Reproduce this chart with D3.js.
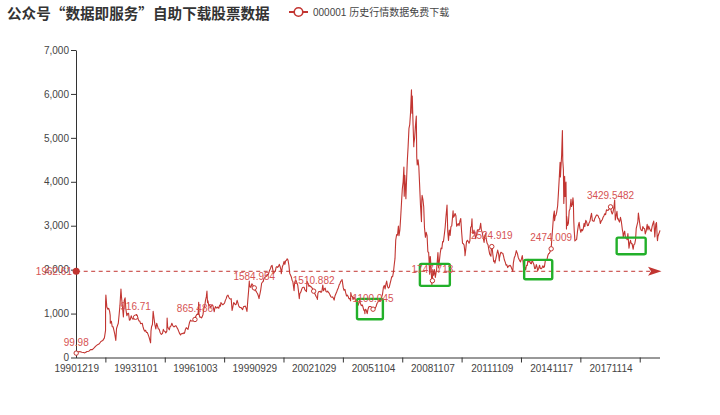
<!DOCTYPE html>
<html><head><meta charset="utf-8">
<script src="https://cdn.jsdelivr.net/npm/d3@7"></script>
<style>body{margin:0;background:#fff}svg{display:block}</style>
</head><body><svg id="c" width="720" height="415"></svg>
<script>
const chartTitle = "公众号“数据即服务”自助下载股票数据";
const seriesName = "000001 历史行情数据免费下载";
const xTickLabels = ["19901219","19931101","19961003","19990929","20021029","20051104","20081107","20111109","20141117","20171114"];
const lastDate = "20200508";
const yTickValues = [0,1000,2000,3000,4000,5000,6000,7000];
const averageValue = 1962.61;
const highlights = [["20050110","20060505",870,1335],["20080320","20090925",1631,2131],["20130703","20141207",1783,2222],["20180306","20190820",2352,2730]];
const closes = [
["19901219",99.98],["19901231",127.61],
["19910131",129.97],["19910228",133.05],["19910329",120.19],["19910430",113.94],["19910517",104.96],["19910531",114.83],["19910628",137.56],["19910731",143.8],["19910830",180.92],["19910930",180.19],["19911031",218.6],["19911129",259.6],["19911231",292.75],
["19920131",313.24],["19920228",364.74],["19920331",384.46],["19920430",446.18],["19920520",617],["19920521",1266.49],["19920526",1421.57],["19920612",1150],["19920630",1099],["19920715",1120],["19920731",1050],["19920810",960],["19920812",781],["19920831",823],["19920915",700],["19920930",700],["19921015",620],["19921030",530],["19921117",386.85],["19921130",660],["19921215",720],["19921231",780.39],
["19930115",980],["19930129",1180],["19930216",1558.95],["19930226",1370],["19930315",1150],["19930331",925],["19930415",1300],["19930430",1358],["19930514",1100],["19930531",950],["19930615",1000],["19930630",1007],["19930715",850],["19930730",860],["19930816",950],["19930831",900],["19930915",870],["19930930",890],["19931015",880],["19931101",916.71],["19931115",980],["19931130",960],["19931215",880],["19931231",833.8],
["19940114",830],["19940131",770],["19940228",780],["19940315",700],["19940331",630],["19940415",600],["19940429",620],["19940516",570],["19940531",570],["19940615",520],["19940630",470],["19940715",400],["19940729",333.92],["19940805",600],["19940815",700],["19940831",750],["19940913",1052.94],["19940930",880],["19941014",750],["19941031",650],["19941115",780],["19941130",720],["19941215",650],["19941230",647.87],
["19950116",570],["19950207",524.43],["19950228",550],["19950315",640],["19950331",600],["19950414",590],["19950428",560],["19950517",600],["19950522",897],["19950531",700],["19950615",660],["19950630",630],["19950714",700],["19950731",720],["19950815",780],["19950831",730],["19950915",700],["19950929",700],["19951016",720],["19951031",720],["19951115",680],["19951130",650],["19951215",600],["19951229",555.29],
["19960119",512.83],["19960131",537],["19960215",550],["19960229",540],["19960315",560],["19960329",550],["19960415",640],["19960430",680],["19960515",660],["19960531",640],["19960614",720],["19960628",800],["19960715",850],["19960731",830],["19960815",830],["19960830",830],["19960913",850],["19960930",850],["19961003",865.486],["19961015",930],["19961031",970],["19961115",990],["19961129",980],["19961211",1258.69],["19961216",1000],["19961231",917.02],
["19970115",920],["19970131",900],["19970214",930],["19970228",980],["19970314",1100],["19970331",1170],["19970415",1300],["19970430",1380],["19970512",1510.17],["19970522",1250],["19970530",1290],["19970613",1180],["19970630",1200],["19970715",1130],["19970731",1170],["19970815",1200],["19970829",1180],["19970923",1041],["19970930",1100],["19971015",1160],["19971031",1130],["19971114",1130],["19971128",1150],["19971215",1120],["19971231",1194.1],
["19980115",1170],["19980123",1250],["19980227",1200],["19980331",1240],["19980415",1300],["19980430",1340],["19980515",1400],["19980529",1410],["19980603",1420],["19980615",1380],["19980630",1340],["19980715",1330],["19980731",1340],["19980817",1070],["19980831",1150],["19980915",1250],["19980930",1230],["19981015",1200],["19981030",1210],["19981117",1300],["19981130",1250],["19981215",1180],["19981231",1146.7],
["19990115",1140],["19990129",1135],["19990226",1090],["19990315",1160],["19990331",1160],["19990415",1170],["19990430",1130],["19990517",1047.83],["19990531",1280],["19990615",1500],["19990629",1739],["19990630",1689.42],["19990715",1600],["19990730",1600],["19990816",1680],["19990831",1650],["19990915",1620],["19990929",1584.954],["19991015",1520],["19991029",1520],["19991115",1480],["19991130",1450],["19991215",1400],["19991228",1341],["19991230",1366.58],
["20000114",1450],["20000128",1535],["20000215",1690],["20000229",1714],["20000315",1730],["20000331",1800],["20000414",1820],["20000428",1836],["20000515",1850],["20000531",1894],["20000615",1870],["20000630",1928],["20000714",1980],["20000731",2023],["20000815",2080],["20000831",2097],["20000915",1990],["20000929",1910],["20001016",1950],["20001031",1961],["20001115",2050],["20001130",2070],["20001215",2050],["20001229",2073.48],
["20010115",2120],["20010131",2065],["20010215",2000],["20010222",1907],["20010228",1960],["20010315",2070],["20010330",2112],["20010416",2190],["20010430",2119],["20010515",2200],["20010531",2214],["20010613",2245.43],["20010629",2218],["20010716",2100],["20010731",1920],["20010815",1880],["20010831",1834],["20010914",1760],["20010928",1731],["20011022",1520],["20011031",1690],["20011115",1750],["20011130",1750],["20011214",1700],["20011231",1645.97],
["20020115",1500],["20020129",1339],["20020208",1450],["20020228",1490],["20020315",1550],["20020329",1590],["20020415",1600],["20020430",1600],["20020515",1540],["20020531",1520],["20020614",1500],["20020624",1732],["20020628",1730],["20020715",1680],["20020731",1620],["20020815",1640],["20020830",1610],["20020913",1610],["20020930",1580],["20021015",1550],["20021029",1510.882],["20021115",1460],["20021129",1430],["20021213",1390],["20021231",1357.65],
["20030106",1320],["20030115",1460],["20030130",1500],["20030214",1500],["20030228",1510],["20030314",1480],["20030331",1510],["20030416",1649],["20030430",1520],["20030515",1560],["20030530",1580],["20030616",1500],["20030630",1490],["20030715",1510],["20030731",1480],["20030815",1460],["20030829",1420],["20030915",1380],["20030930",1370],["20031015",1380],["20031031",1350],["20031113",1307],["20031128",1400],["20031215",1450],["20031231",1497.04],
["20040115",1550],["20040130",1590],["20040216",1660],["20040227",1680],["20040315",1740],["20040331",1740],["20040407",1777],["20040416",1710],["20040430",1590],["20040514",1530],["20040531",1550],["20040615",1470],["20040630",1400],["20040715",1420],["20040730",1390],["20040813",1340],["20040831",1340],["20040913",1290],["20040917",1480],["20040930",1400],["20041015",1390],["20041029",1320],["20041115",1380],["20041130",1340],["20041215",1300],["20041231",1266.5],
["20050114",1230],["20050131",1190],["20050215",1250],["20050228",1300],["20050315",1230],["20050331",1180],["20050415",1200],["20050429",1160],["20050516",1080],["20050531",1060],["20050606",998.23],["20050609",1100],["20050630",1080],["20050715",1010],["20050719",1000],["20050729",1080],["20050815",1150],["20050831",1160],["20050915",1160],["20050930",1155],["20051018",1130],["20051031",1092],["20051104",1100.045],["20051115",1100],["20051130",1100],["20051215",1130],["20051230",1161.06],
["20060116",1230],["20060131",1258],["20060215",1290],["20060228",1299],["20060315",1280],["20060331",1298],["20060414",1380],["20060428",1440],["20060515",1600],["20060531",1641],["20060615",1560],["20060630",1672],["20060714",1740],["20060731",1612],["20060815",1580],["20060831",1601],["20060915",1680],["20060929",1752],["20061016",1840],["20061031",1837],["20061115",1930],["20061130",2099],["20061215",2250],["20061229",2675.47],
["20070115",2800],["20070131",2786],["20070216",2990],["20070227",2771],["20070315",2900],["20070330",3183],["20070416",3550],["20070430",3841],["20070515",4000],["20070529",4334],["20070604",3670],["20070615",4150],["20070629",3820],["20070705",3615],["20070716",4000],["20070731",4471],["20070815",4800],["20070831",5218],["20070914",5300],["20070928",5552],["20071016",6092.06],["20071025",5560],["20071031",5954],["20071115",5300],["20071128",4800],["20071130",4871],["20071214",5000],["20071228",5261.56],
["20080114",5497.9],["20080122",4559],["20080131",4383],["20080215",4500],["20080229",4348],["20080314",3962],["20080331",3473],["20080418",3094],["20080424",3583],["20080430",3693],["20080515",3600],["20080530",3433],["20080613",2957],["20080630",2736],["20080715",2850],["20080731",2775],["20080815",2400],["20080829",2397],["20080918",1895],["20080925",2300],["20080930",2293],["20081015",2000],["20081028",1664.93],["20081031",1728.79],["20081107",1747.713],["20081114",2000],["20081128",1871],["20081215",2000],["20081231",1820.81],
["20090115",1950],["20090123",1990],["20090217",2389],["20090302",2040],["20090316",2200],["20090331",2373],["20090415",2490],["20090430",2477],["20090515",2640],["20090529",2632],["20090615",2800],["20090630",2959],["20090715",3200],["20090731",3412],["20090804",3471],["20090817",2870],["20090831",2667],["20090915",2900],["20090930",2779],["20091015",2980],["20091030",2995],["20091124",3338],["20091130",3195],["20091215",3220],["20091231",3277.14],
["20100115",3230],["20100129",2989],["20100212",3018],["20100226",3051],["20100315",3000],["20100331",3109],["20100415",3165],["20100430",2870],["20100517",2600],["20100531",2592],["20100615",2560],["20100630",2398],["20100702",2319],["20100715",2450],["20100730",2637],["20100816",2670],["20100831",2638],["20100915",2600],["20100930",2655],["20101015",2971],["20101029",2979],["20101108",3159],["20101117",2838],["20101130",2820],["20101215",2900],["20101231",2808.08],
["20110114",2706],["20110131",2790],["20110215",2900],["20110228",2905],["20110315",2900],["20110331",2928],["20110418",3057],["20110429",2911],["20110516",2850],["20110531",2743],["20110620",2621],["20110630",2762],["20110718",2820],["20110729",2701],["20110815",2600],["20110831",2567],["20110915",2460],["20110930",2359],["20111024",2307],["20111031",2468],["20111109",2524.919],["20111115",2500],["20111130",2333],["20111215",2180],["20111230",2199.42],
["20120106",2148],["20120131",2292],["20120227",2447],["20120229",2428],["20120315",2360],["20120328",2200],["20120330",2262],["20120416",2357],["20120427",2396],["20120515",2380],["20120531",2373],["20120615",2306],["20120629",2225],["20120716",2170],["20120731",2103],["20120815",2110],["20120831",2047],["20120914",2080],["20120928",2086],["20121015",2100],["20121031",2068],["20121115",2020],["20121130",1980],["20121203",1959],["20121214",2150],["20121231",2269.13],
["20130115",2312],["20130131",2385],["20130206",2434],["20130228",2365],["20130315",2278],["20130329",2236],["20130415",2200],["20130426",2177],["20130515",2250],["20130529",2320],["20130614",2162],["20130625",1959],["20130628",1979],["20130715",2060],["20130731",1993],["20130815",2100],["20130830",2098],["20130912",2237],["20130930",2175],["20131015",2190],["20131031",2141],["20131115",2135],["20131129",2220],["20131216",2160],["20131231",2115.98],
["20140115",2020],["20140130",2033],["20140214",2115],["20140228",2056],["20140311",1974],["20140331",2033],["20140415",2100],["20140430",2026],["20140515",2020],["20140530",2039],["20140616",2087],["20140630",2048],["20140715",2067],["20140731",2201],["20140815",2226],["20140829",2217],["20140915",2315],["20140930",2363],["20141015",2373],["20141031",2420],["20141117",2474.009],["20141128",2683],["20141209",2856],["20141215",2953],["20141231",3234.68],
["20150115",3336],["20150119",3116],["20150130",3210],["20150216",3247],["20150227",3310],["20150316",3449],["20150331",3748],["20150415",4084],["20150430",4441],["20150507",4112],["20150515",4308],["20150529",4611],["20150612",5166.35],["20150619",4478],["20150630",4277],["20150708",3507],["20150723",4124],["20150731",3664],["20150817",3994],["20150826",2927],["20150831",3206],["20150915",3005],["20150930",3053],["20151015",3338],["20151030",3382],["20151117",3604],["20151127",3436],["20151215",3510],["20151223",3636],["20151231",3539.18],
["20160104",3296],["20160107",3125],["20160115",2900],["20160128",2655.66],["20160229",2688],["20160315",2864],["20160331",3003],["20160415",3078],["20160429",2938],["20160516",2850],["20160531",2917],["20160615",2887],["20160630",2930],["20160715",3054],["20160729",2979],["20160815",3125],["20160831",3085],["20160915",3002],["20160930",3005],["20161014",3063],["20161031",3100],["20161115",3206],["20161129",3282],["20161215",3117],["20161230",3103.64],
["20170116",3103],["20170126",3159],["20170215",3212],["20170228",3242],["20170315",3241],["20170331",3223],["20170414",3176],["20170428",3155],["20170510",3052],["20170531",3117],["20170615",3132],["20170630",3192],["20170714",3222],["20170731",3273],["20170815",3251],["20170831",3361],["20170915",3353],["20170929",3349],["20171016",3378],["20171031",3393],["20171113",3447],["20171114",3429.5482],["20171124",3353],["20171130",3317],["20171215",3266],["20171229",3307.17],
["20180115",3410],["20180129",3587],["20180209",3129],["20180228",3259],["20180312",3326],["20180323",3153],["20180330",3169],["20180416",3110],["20180427",3082],["20180515",3192],["20180531",3095],["20180619",2907],["20180629",2847],["20180705",2733],["20180716",2815],["20180731",2876],["20180815",2723],["20180831",2725],["20180914",2681],["20180928",2821],["20181018",2486],["20181031",2603],["20181115",2668],["20181130",2588],["20181214",2593],["20181228",2493.9],
["20190103",2464.36],["20190115",2570],["20190131",2584],["20190215",2682],["20190228",2941],["20190315",3021],["20190329",3090],["20190408",3288],["20190430",3078],["20190515",2938],["20190531",2899],["20190617",2887],["20190628",2979],["20190715",2942],["20190731",2932],["20190812",2815],["20190830",2886],["20190916",3030],["20190930",2905],["20191015",2992],["20191031",2929],["20191115",2891],["20191129",2872],["20191216",2984],["20191231",3050.12],
["20200114",3106],["20200123",2976],["20200203",2746],["20200221",3039],["20200305",3071],["20200319",2702],["20200323",2660],["20200331",2750],["20200415",2811],["20200430",2860],["20200508",2895]
];

const RED = "#c23531", LABEL_RED = "#d65353", AXIS = "#333", TEXT = "#444";
const FONT = "'Liberation Sans','Noto Sans CJK SC',sans-serif";
const parse = d3.timeParse("%Y%m%d");
const fmtDate = d3.timeFormat("%Y%m%d");
const data = closes.map(([d, v]) => ({ date: parse(d), value: v, key: d }));
const tickDates = xTickLabels.map(parse);

const left = 76.2, right = 660, step = 59.37;
const x = d3.scaleTime()
  .domain(tickDates.concat([parse(lastDate)]))
  .range(tickDates.map((d, i) => left + i * step).concat([right]));
const y = d3.scaleLinear().domain([0, 7000]).range([357.5, 50]);

const svg = d3.select("#c").style("font-family", FONT);

// title
svg.append("text").attr("x", 7).attr("y", 18.8)
  .style("font-family", "'Noto Sans CJK SC',sans-serif")
  .style("font-size", "14.6px").style("font-weight", "bold").attr("fill", "#333")
  .text(chartTitle);

// legend
const lg = svg.append("g");
lg.append("line").attr("x1", 289).attr("x2", 308).attr("y1", 12).attr("y2", 12)
  .attr("stroke", RED).attr("stroke-width", 2);
lg.append("circle").attr("cx", 298.5).attr("cy", 12).attr("r", 4.3)
  .attr("fill", "#fff").attr("stroke", RED).attr("stroke-width", 1.6);
lg.append("text").attr("x", 313).attr("y", 12).attr("dy", "0.35em")
  .style("font-size", "10px").attr("fill", TEXT).text(seriesName);

// y axis
const yAxis = svg.append("g").attr("transform", `translate(${left - 0.2},0)`)
  .call(d3.axisLeft(y).tickValues(yTickValues).tickFormat(d3.format(",")).tickSize(5).tickSizeOuter(0).tickPadding(2));
yAxis.select(".domain").attr("stroke", AXIS);
yAxis.selectAll(".tick line").attr("stroke", AXIS);
yAxis.selectAll(".tick text").attr("fill", TEXT).style("font-size", "10px").style("font-family", FONT);

// x axis
const xAxis = svg.append("g").attr("transform", `translate(0,${y(0)})`)
  .call(d3.axisBottom(x).tickValues(tickDates).tickFormat(fmtDate).tickSize(0).tickPadding(7));
xAxis.select(".domain").attr("stroke", AXIS).attr("d", `M${left - 0.2},0.5H${right}`);
xAxis.selectAll(".tick text").attr("fill", TEXT).style("font-size", "10px").style("font-family", FONT);
const mids = tickDates.map((d, i) => i < tickDates.length - 1
  ? (x(d) + x(tickDates[i + 1])) / 2
  : x(d) + (x(d) - x(tickDates[i - 1])) / 2);
xAxis.selectAll(".midtick").data(mids).join("line").attr("class", "midtick")
  .attr("x1", d => d).attr("x2", d => d).attr("y1", 0).attr("y2", 5).attr("stroke", AXIS);

// line
const line = d3.line().x(d => x(d.date)).y(d => y(d.value));
svg.append("path").datum(data).attr("d", line)
  .attr("fill", "none").attr("stroke", RED).attr("stroke-width", 1.1).attr("stroke-linejoin", "round");

// average mark line
const ay = y(averageValue);
const ml = svg.append("g");
ml.append("line").attr("x1", left).attr("x2", right - 10).attr("y1", ay).attr("y2", ay)
  .attr("stroke", RED).attr("stroke-dasharray", "4,3.5").attr("stroke-width", 1);
ml.append("circle").attr("cx", left).attr("cy", ay).attr("r", 3.5).attr("fill", RED);
ml.append("path").attr("d", `M${right + 1.5},${ay}L${right - 12},${ay - 4.5}L${right - 9},${ay}L${right - 12},${ay + 4.5}Z`).attr("fill", RED);
ml.append("text").attr("x", 72).attr("y", ay).attr("dy", "0.35em").attr("text-anchor", "end")
  .style("font-size", "10px").attr("fill", LABEL_RED).text(String(averageValue));

// highlight rectangles
svg.selectAll(".hl").data(highlights).join("rect").attr("class", "hl")
  .attr("x", d => x(parse(d[0]))).attr("width", d => x(parse(d[1])) - x(parse(d[0])))
  .attr("y", d => y(d[3])).attr("height", d => y(d[2]) - y(d[3]))
  .attr("rx", 1.5).attr("fill", "none").attr("stroke", "#22b02a").attr("stroke-width", 2.4);

// symbols + labels at label dates
const marks = data.filter(d => xTickLabels.includes(d.key));
svg.selectAll(".sym").data(marks).join("circle").attr("class", "sym")
  .attr("cx", d => x(d.date)).attr("cy", d => y(d.value)).attr("r", 2.2)
  .attr("fill", "#fff").attr("stroke", RED).attr("stroke-width", 1);
svg.selectAll(".lbl").data(marks).join("text").attr("class", "lbl")
  .attr("x", d => x(d.date)).attr("y", d => y(d.value) - 7.5).attr("text-anchor", "middle")
  .style("font-size", "10px").attr("fill", LABEL_RED).text(d => String(d.value));
</script></body></html>
